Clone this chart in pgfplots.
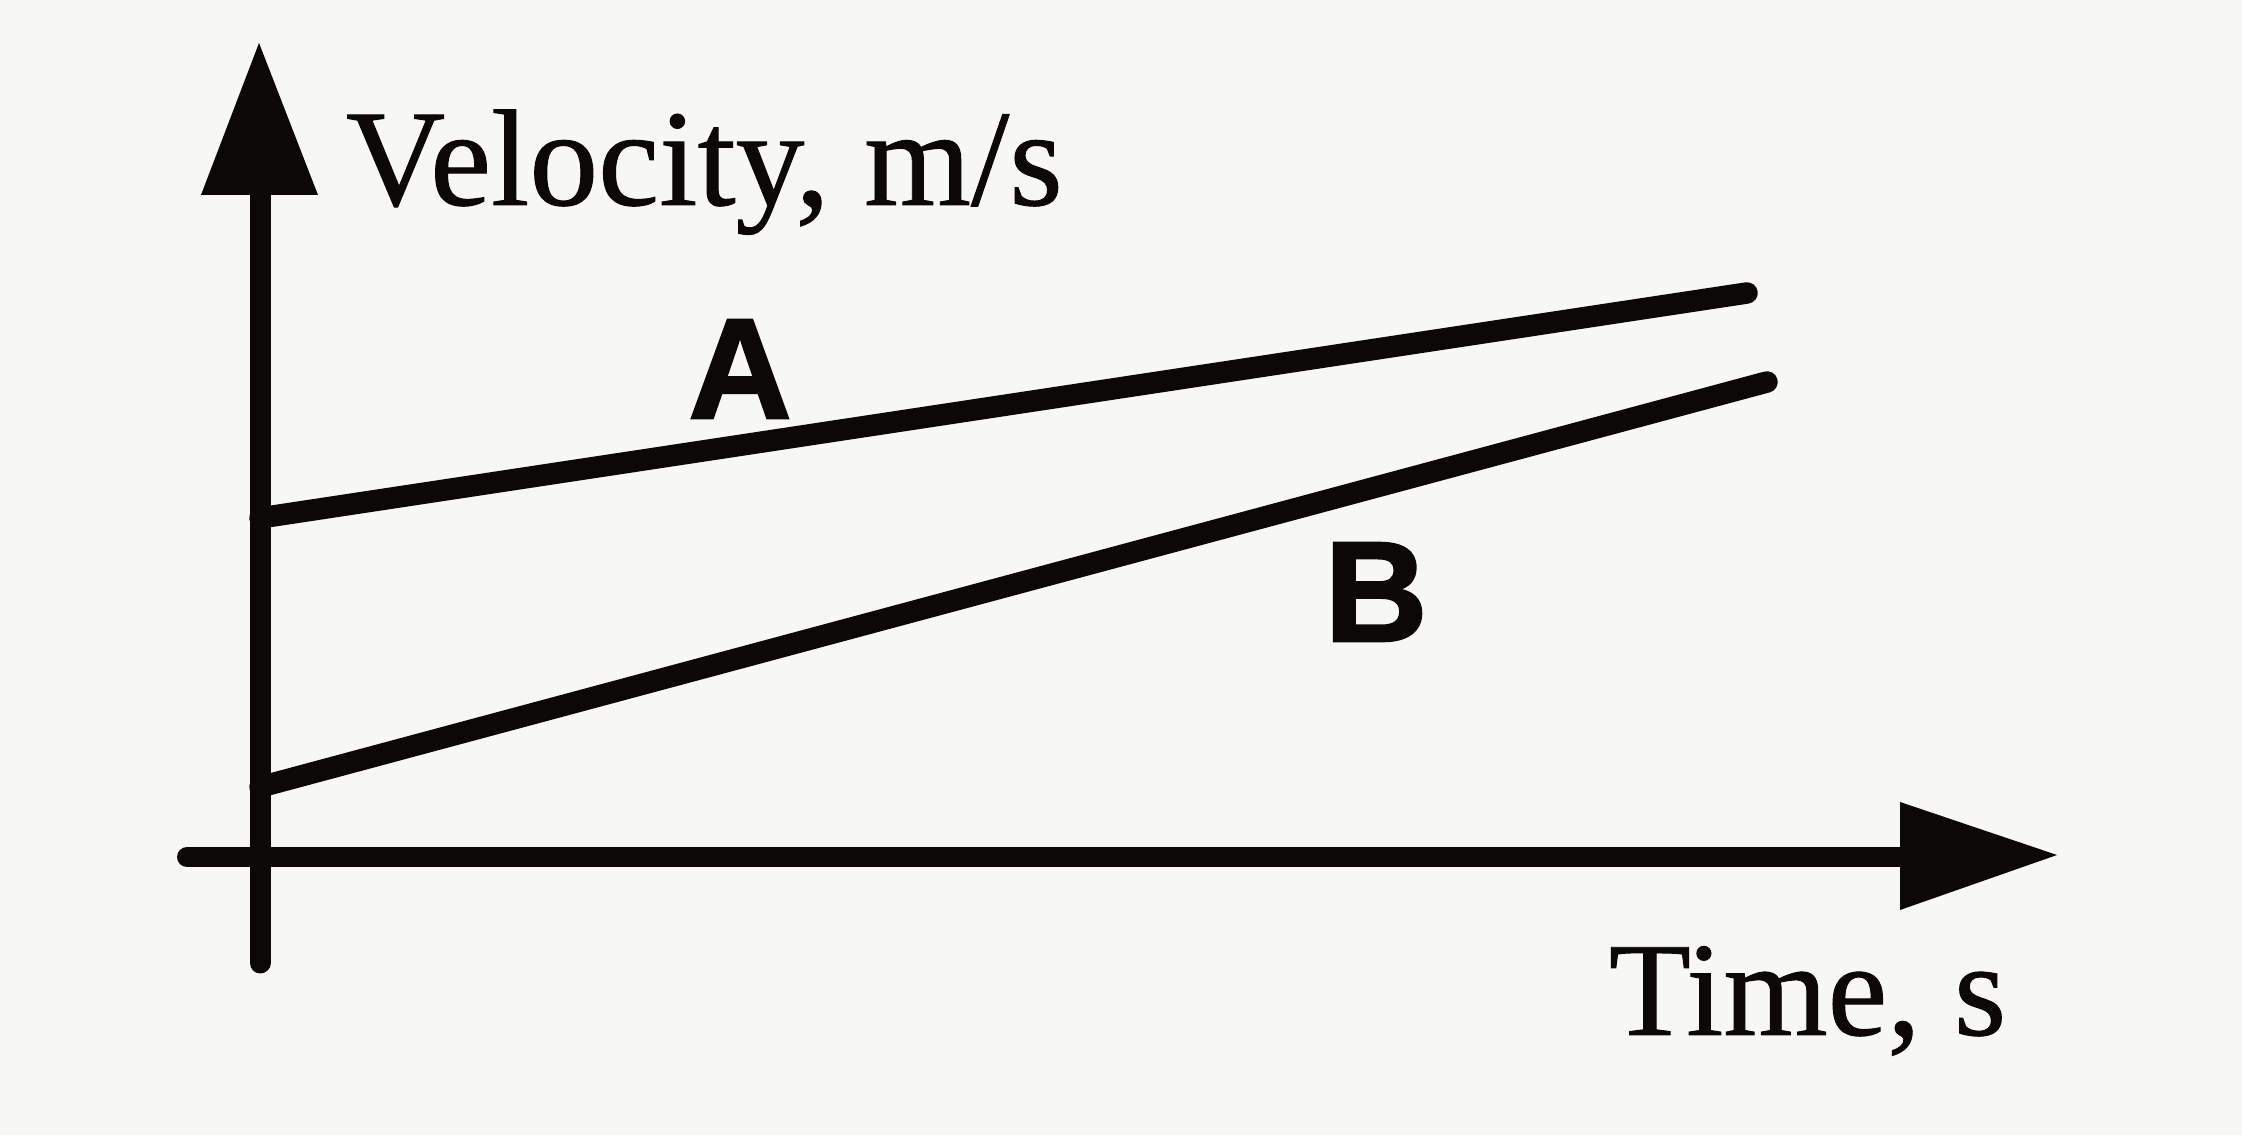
\documentclass[border=0pt]{standalone}
\usepackage{fontspec}
\setmainfont{Liberation Serif}
\newfontfamily\heavyserif{Liberation Serif}[FakeBold=0.7]
\newfontfamily\lsans{Liberation Sans Bold}[FakeBold=1.8]
\usepackage{pgfplots}
\pgfplotsset{compat=1.18}
\definecolor{paper}{RGB}{247,247,245}
\definecolor{ink}{RGB}{12,8,8}
\begin{document}
\begin{tikzpicture}
\begin{axis}[
  x=0.2pt, y=0.2pt,
  xmin=0, xmax=2242, ymin=0, ymax=1135,
  hide axis, clip=false,
]
% paper background
\fill[paper] (axis cs:0,0) rectangle (axis cs:2242,1135);
% axes
\draw[ink, line width=4.2pt, line cap=round] (axis cs:260,172) -- (axis cs:260,950);
\fill[ink] (axis cs:201,940) -- (axis cs:318,940) -- (axis cs:259,1092) -- cycle;
\draw[ink, line width=4pt, line cap=round] (axis cs:187,278) -- (axis cs:1910,278);
\fill[ink] (axis cs:1900,333) -- (axis cs:1900,225) -- (axis cs:2057,280) -- cycle;
% lines
\addplot[ink, line width=4.3pt, line cap=round, no markers] coordinates {(260,617) (1747,842)};
\addplot[ink, line width=4.3pt, line cap=round, no markers] coordinates {(260,348) (1767,753)};
% labels
\node[anchor=base west, inner sep=0pt, font=\heavyserif\fontsize{27.5}{33}\selectfont, text=ink] at (axis cs:345,930) {Velocity, m/s};
\node[anchor=base west, inner sep=0pt, font=\heavyserif\fontsize{26.8}{32}\selectfont, text=ink] at (axis cs:1608,100) {Time, s};
\node[anchor=center, inner sep=0pt, font=\lsans\fontsize{28.5}{34}\selectfont, text=ink] at (axis cs:740,766) {A};
\node[anchor=center, inner sep=0pt, font=\lsans\fontsize{28.5}{34}\selectfont, text=ink] at (axis cs:1376,543) {B};
\end{axis}
\end{tikzpicture}
\end{document}
